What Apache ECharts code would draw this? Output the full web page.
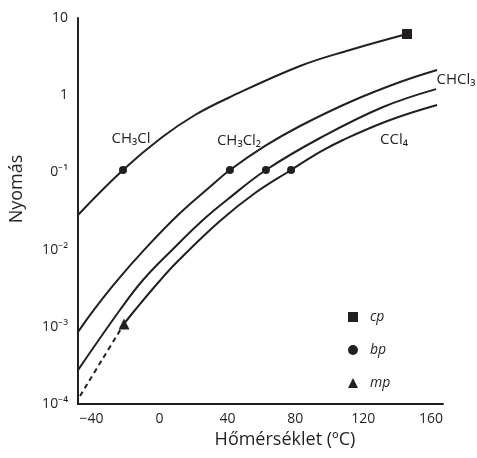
<!DOCTYPE html>
<html><head><meta charset="utf-8">
<script src="https://cdn.jsdelivr.net/npm/echarts@6/dist/echarts.min.js"></script>
<style>html,body{margin:0;padding:0;background:#fff}#c{width:477px;height:458px}</style>
</head><body><div id="c"></div>
<script>
// Tick labels
const xTicks = [-40, 0, 40, 80, 120, 160];
const yTicks = [0.0001, 0.001, 0.01, 0.1, 1, 10];
const yTickLabels = ['10⁻⁴', '10⁻³', '10⁻²', '0⁻¹', '1', '10'];

// Vapour-pressure curves (temperature °C, pressure)
const ch3clT = [-48.0, -21.5, 0.9, 20.9, 40.4, 82.8, 112.2, 145.8];
const ch3clP = [0.0281, 0.1074, 0.279, 0.554, 0.920, 2.39, 3.85, 6.20];

const ch2cl2T = [-48.0, -39.2, -26.2, -8.5, 10.9, 30.3, 41.5, 62.2, 82.8, 112.2, 141.7, 163.5];
const ch2cl2P = [0.000857, 0.00160, 0.00369, 0.0102, 0.0281, 0.0667, 0.1074, 0.220, 0.399, 0.817, 1.48, 2.12];

const chcl3T = [-48.0, -23.3, -9.7, 8.0, 25.6, 40.4, 62.7, 94.6, 131.7, 162.9];
const chcl3P = [0.000275, 0.00165, 0.00404, 0.0102, 0.0242, 0.0452, 0.1074, 0.279, 0.703, 1.20];

const ccl4T = [-20.9, -14.4, 0.3, 10.9, 35.6, 56.3, 77.5, 94.6, 108.1, 135.8, 163.5];
const ccl4P = [0.00109, 0.00165, 0.00398, 0.00711, 0.0234, 0.0541, 0.1074, 0.184, 0.263, 0.477, 0.746];

// Extrapolated (dashed) part of CCl4 below its melting point
const ccl4DashT = [-46.8, -33.9, -20.9];
const ccl4DashP = [0.000127, 0.000372, 0.00109];

// Special points
const cpT = [145.8]; const cpP = [6.20];
const bpT = [-21.5, 41.5, 62.7, 77.5]; const bpP = [0.1074, 0.1074, 0.1074, 0.1074];
const mpT = [-20.9]; const mpP = [0.00109];

const curveLabels = ['CH₃Cl', 'CH₃Cl₂', 'CHCl₃', 'CCl₄'];
const legendNames = ['cp', 'bp', 'mp'];

const zip = (a, b) => a.map((v, i) => [v, b[i]]);
const INK = '#231f20';
const FONT = 'Open Sans';

function curve(name, t, p, dashed) {
  return {
    name: name, type: 'line', data: zip(t, p), showSymbol: false, silent: true,
    smooth: 0.4,
    lineStyle: { color: INK, width: 2, type: dashed ? [5, 4] : 'solid' },
    z: 2
  };
}

const chart = echarts.init(document.getElementById('c'));
const yLabelMap = {};
yTicks.forEach((v, i) => { yLabelMap[v.toExponential()] = yTickLabels[i]; });

chart.setOption({
  backgroundColor: '#fff',
  animation: false,
  grid: { left: 78, right: 34, top: 18, bottom: 54 },
  xAxis: {
    type: 'value', min: -48, max: 167,
    name: 'Hőmérséklet (ºC)', nameLocation: 'middle', nameGap: 27,
    nameTextStyle: { color: INK, fontSize: 18, fontFamily: FONT, padding: [0, 0, 0, 49] },
    axisLine: { show: true, onZero: false, lineStyle: { color: INK, width: 2 } },
    axisTick: { show: false },
    splitLine: { show: false },
    axisLabel: {
      customValues: xTicks, color: INK, fontSize: 14, fontFamily: FONT, margin: 8,
      formatter: v => (v < 0 ? '−' + Math.abs(v) : String(v))
    }
  },
  yAxis: {
    type: 'log', logBase: 10, min: 0.0001, max: 10,
    name: 'Nyomás', nameLocation: 'middle', nameGap: 52,
    nameTextStyle: { color: INK, fontSize: 18, fontFamily: FONT, padding: [0, 0, 0, 44] },
    axisLine: { show: true, onZero: false, lineStyle: { color: INK, width: 2 } },
    axisTick: { show: false },
    splitLine: { show: false },
    axisLabel: {
      color: INK, fontSize: 14, fontFamily: FONT, margin: 10,
      formatter: v => {
        const k = Number(v).toExponential();
        return yLabelMap[k] !== undefined ? yLabelMap[k] : '';
      }
    }
  },
  legend: {
    orient: 'vertical', left: 343, top: 305, itemWidth: 10, itemHeight: 10, itemGap: 19,
    selectedMode: false,
    itemStyle: { opacity: 1 },
    data: [
      { name: legendNames[0], icon: 'rect' },
      { name: legendNames[1], icon: 'circle' },
      { name: legendNames[2], icon: 'triangle' }
    ],
    textStyle: { color: INK, fontSize: 14, fontStyle: 'italic', fontFamily: FONT, padding: [0, 0, 0, 7] }
  },
  series: [
    curve('CH3Cl', ch3clT, ch3clP),
    curve('CH2Cl2', ch2cl2T, ch2cl2P),
    curve('CHCl3', chcl3T, chcl3P),
    curve('CCl4', ccl4T, ccl4P),
    curve('CCl4 extrapolated', ccl4DashT, ccl4DashP, true),
    { name: legendNames[0], type: 'scatter', data: zip(cpT, cpP), symbol: 'rect', symbolSize: 10,
      itemStyle: { color: INK, opacity: 1 }, z: 5 },
    { name: legendNames[1], type: 'scatter', data: zip(bpT, bpP), symbol: 'circle', symbolSize: 8,
      itemStyle: { color: INK, opacity: 1 }, z: 5 },
    { name: legendNames[2], type: 'scatter', data: zip(mpT, mpP), symbol: 'triangle', symbolSize: 11,
      itemStyle: { color: INK, opacity: 1 }, z: 5 }
  ],
  graphic: [
    { type: 'text', x: 131, y: 139, style: { text: curveLabels[0], fill: INK, fontSize: 15, fontFamily: FONT, textAlign: 'center', textVerticalAlign: 'middle', align: 'center', verticalAlign: 'middle' } },
    { type: 'text', x: 239, y: 141, style: { text: curveLabels[1], fill: INK, fontSize: 15, fontFamily: FONT, textAlign: 'center', textVerticalAlign: 'middle', align: 'center', verticalAlign: 'middle' } },
    { type: 'text', x: 456, y: 80, style: { text: curveLabels[2], fill: INK, fontSize: 15, fontFamily: FONT, textAlign: 'center', textVerticalAlign: 'middle', align: 'center', verticalAlign: 'middle' } },
    { type: 'text', x: 394, y: 140, style: { text: curveLabels[3], fill: INK, fontSize: 15, fontFamily: FONT, textAlign: 'center', textVerticalAlign: 'middle', align: 'center', verticalAlign: 'middle' } }
  ]
});
</script>
</body></html>
